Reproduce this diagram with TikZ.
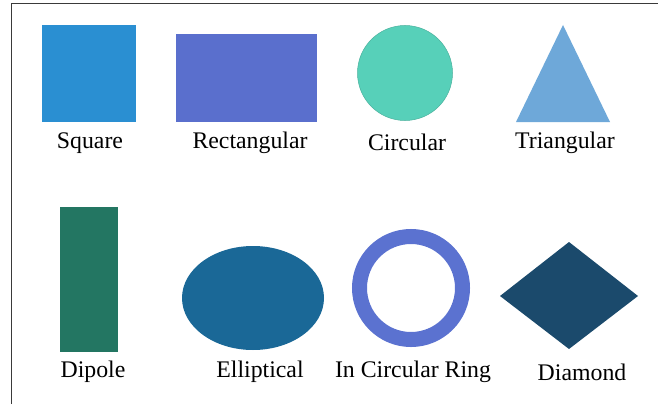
\documentclass[tikz,border=0pt]{standalone}
\usepackage{fontspec}
\setmainfont{Liberation Serif}
\usepackage{xcolor}
\usepackage{tikz}
\usetikzlibrary{positioning,shapes.geometric}
\definecolor{sqblue}   {HTML}{2A8FD2}
\definecolor{rectblue} {HTML}{5A6FCD}
\definecolor{mint}     {HTML}{57D0B9}
\definecolor{skyblue}  {HTML}{6EA8D9}
\definecolor{pine}     {HTML}{237662}
\definecolor{ocean}    {HTML}{1A6897}
\definecolor{ringblue} {HTML}{5B72D0}
\definecolor{navy}     {HTML}{1B4A6C}
\definecolor{frame}    {HTML}{3A3A3A}

\begin{document}
\begin{tikzpicture}[x=1pt,y=-1pt,
  lbl/.style={font=\fontsize{23.8}{28}\selectfont, anchor=base, inner sep=0pt}]
 \useasboundingbox (0,0) rectangle (658,404);
 \fill[white] (0,0) rectangle (658,404);
 % frame
 \draw[frame, line width=1.2pt] (11.5,404) -- (11.5,3.5) -- (658,3.5);
 % top row
 \begin{scope}
  \fill[sqblue]   (42,25) rectangle (136,122);
  \fill[rectblue] (176,34) rectangle (317,122);
  \fill[mint, draw=mint!85!black, line width=0.5pt] (405,73) circle (47.5pt);
  \fill[skyblue]  (563,25) -- (610,122) -- (516,122) -- cycle;
 \end{scope}
 \node[lbl] (square) at (90,148)  {Square};
 \node[lbl] (rect)   at (250,148) {Rectangular};
 \node[lbl] (circ)   at (407,150) {Circular};
 \node[lbl] (tri)    at (565,148) {Triangular};
 % bottom row
 \begin{scope}
  \fill[pine]     (60,207) rectangle (118,352);
  \fill[ocean]    (253,298) ellipse [x radius=71pt, y radius=52pt];
  \draw[ringblue, line width=15pt] (411,288) circle (51.5pt);
  \fill[navy]     (500,296) -- (569,242) -- (638,296) -- (569,349) -- cycle;
 \end{scope}
 \node[lbl] (dipole)  at (93,377)  {Dipole};
 \node[lbl] (ellip)   at (260,377) {Elliptical};
 \node[lbl] (ring)    at (413,377) {In Circular Ring};
 \node[lbl] (diamond) at (582,380) {Diamond};
\end{tikzpicture}
\end{document}
